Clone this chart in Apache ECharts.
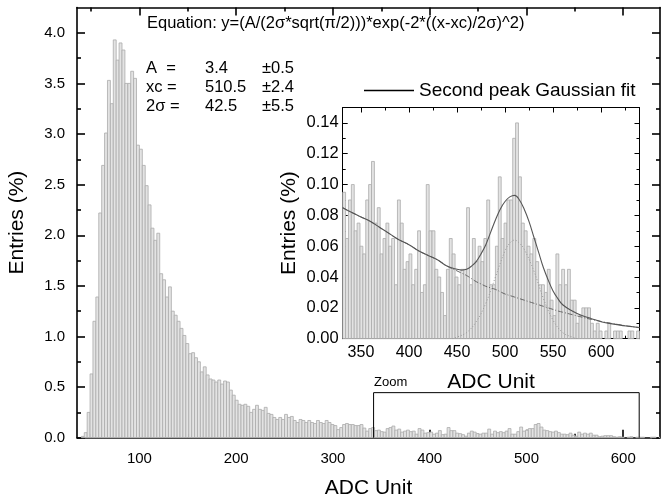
<!DOCTYPE html>
<html><head><meta charset="utf-8">
<script src="https://cdn.jsdelivr.net/npm/echarts@6/dist/echarts.min.js"></script>
<style>html,body{margin:0;padding:0;background:#fff}#c{width:662px;height:501px}</style>
</head><body><div id="c"></div>
<script>
// ---- histogram: bins of 3 ADC units starting at 40, values in % ----
const binStart = 40;
const binWidth = 3;
const entriesLow = [
  0.013, 0.05, 0.25, 0.63, 1.15, 1.39, 2.22, 2.69, 3.01, 3.53,
  3.30, 3.93, 3.73, 3.90, 3.83, 3.50, 3.50, 3.62, 3.55, 2.89,
  2.85, 2.69, 2.49, 2.30, 2.07, 1.95, 2.02, 1.62, 1.56, 1.39,
  1.49, 1.25, 1.21, 1.15, 1.08, 1.01, 0.93, 0.83, 0.84, 0.79,
  0.75, 0.65, 0.70, 0.62, 0.58, 0.57, 0.55, 0.57, 0.53, 0.56,
  0.55, 0.47, 0.42, 0.37, 0.33, 0.32, 0.33, 0.31, 0.25, 0.28,
  0.32, 0.28, 0.27, 0.30, 0.24, 0.23, 0.20, 0.18, 0.20, 0.18,
  0.23, 0.20, 0.21, 0.17, 0.15, 0.18, 0.17, 0.15, 0.17, 0.15,
  0.14, 0.17, 0.15, 0.14, 0.17, 0.15, 0.13, 0.12, 0.08, 0.10,
  0.13, 0.14, 0.13, 0.13, 0.12, 0.12, 0.13
];
const entriesHigh = [
  0.095, 0.065, 0.090, 0.100, 0.070, 0.075, 0.060, 0.055, 0.090, 0.100,
  0.115, 0.075, 0.085, 0.055, 0.065, 0.075, 0.060, 0.065, 0.035, 0.090,
  0.075, 0.045, 0.050, 0.055, 0.035, 0.045, 0.070, 0.030, 0.035, 0.100,
  0.070, 0.070, 0.045, 0.040, 0.030, 0.015, 0.045, 0.065, 0.055, 0.040,
  0.035, 0.045, 0.045, 0.085, 0.035, 0.065, 0.050, 0.060, 0.050, 0.065,
  0.090, 0.035, 0.035, 0.060, 0.105, 0.065, 0.075, 0.090, 0.090, 0.130,
  0.140, 0.105, 0.075, 0.070, 0.060, 0.055, 0.065, 0.050, 0.035, 0.035,
  0.030, 0.045, 0.025, 0.015, 0.055, 0.035, 0.045, 0.035, 0.045, 0.025,
  0.025, 0.010, 0.015, 0.020, 0.020, 0.020, 0.010, 0.005, 0.010, 0.005,
  0.000, 0.005, 0.010, 0.000, 0.005, 0.005, 0.005, 0.000, 0.000, 0.005,
  0.005, 0.000, 0.005
];
const entries = entriesLow.concat(entriesHigh);

// ---- fit curves ----
const fitX =       [331, 340, 350, 360, 370, 380, 390, 400, 410, 420, 430, 440, 450, 455, 460, 465, 470, 475, 480, 485, 490, 495, 500, 505, 510, 515, 520, 525, 530, 535, 540, 545, 550, 555, 560, 570, 580, 590, 600, 610, 620, 630, 640];
const fitTotal =   [0.085,0.082,0.079,0.076,0.072,0.068,0.064,0.061,0.057,0.054,0.051,0.047,0.045,0.0445,0.045,0.047,0.050,0.055,0.061,0.069,0.077,0.084,0.089,0.092,0.093,0.090,0.084,0.076,0.066,0.056,0.046,0.038,0.031,0.026,0.022,0.018,0.015,0.013,0.011,0.0098,0.0088,0.0080,0.0072];
const fitBackground = [0.085,0.082,0.079,0.076,0.072,0.068,0.064,0.061,0.057,0.054,0.051,0.047,0.044,0.0425,0.041,0.039,0.037,0.0355,0.034,0.033,0.032,0.0305,0.029,0.028,0.027,0.026,0.025,0.024,0.023,0.022,0.021,0.020,0.019,0.018,0.0172,0.0156,0.014,0.0125,0.0112,0.0100,0.0090,0.0080,0.0072];
const gaussX = [445, 450, 460, 470, 480, 490, 500, 505, 510, 515, 520, 530, 540, 550, 560, 570, 575];
const gaussY = [0.000, 0.001, 0.004, 0.011, 0.023, 0.040, 0.057, 0.062, 0.064, 0.062, 0.058, 0.044, 0.026, 0.012, 0.004, 0.001, 0.000];

// ---- zoom box (data coords) ----
const zoomBoxX = [342, 616.5];
const zoomBoxTop = 0.445;

// ---- ticks ----
const mainXTicks = [100, 200, 300, 400, 500, 600];
const mainXMinor = [50, 150, 250, 350, 450, 550];
const mainYTicks = [0, 0.5, 1.0, 1.5, 2.0, 2.5, 3.0, 3.5, 4.0];
const mainYMinor = [0.25, 0.75, 1.25, 1.75, 2.25, 2.75, 3.25, 3.75];
const insetXTicks = [350, 400, 450, 500, 550, 600];
const insetXMinor = [375, 425, 475, 525, 575, 625];
const insetYTicks = [0, 0.02, 0.04, 0.06, 0.08, 0.10, 0.12, 0.14];
const insetYMinor = [0.01, 0.03, 0.05, 0.07, 0.09, 0.11, 0.13];

const FONT = '"Liberation Sans", Arial, sans-serif';

function axesSet(dim, grid, min, max, major, minor, o) {
  const ls = {color: '#000', width: o.lw};
  const base = {type: 'value', gridIndex: grid, min: min, max: max, splitLine: {show: false}, silent: true};
  const p1 = dim === 'x' ? 'bottom' : 'left';
  const p2 = dim === 'x' ? 'top' : 'right';
  return [
    Object.assign({}, base, {
      position: p1,
      axisLine: {show: true, onZero: false, lineStyle: ls},
      axisTick: {show: true, inside: true, length: o.ml, customValues: major, lineStyle: ls},
      axisLabel: {show: true, customValues: major, fontSize: o.fs, fontFamily: FONT, color: '#000', margin: o.margin, formatter: o.fmt},
      name: o.name, nameLocation: 'middle', nameGap: o.nameGap,
      nameTextStyle: {fontSize: o.nfs, fontFamily: FONT, color: '#000'}
    }),
    Object.assign({}, base, {
      position: p1, axisLine: {show: false, onZero: false},
      axisTick: {show: true, inside: true, length: o.nl, customValues: minor, lineStyle: ls},
      axisLabel: {show: false}
    }),
    Object.assign({}, base, {
      position: p2, axisLine: {show: true, onZero: false, lineStyle: ls},
      axisTick: {show: true, inside: true, length: o.ml, customValues: major, lineStyle: ls},
      axisLabel: {show: false}
    }),
    Object.assign({}, base, {
      position: p2, axisLine: {show: false, onZero: false},
      axisTick: {show: true, inside: true, length: o.nl, customValues: minor, lineStyle: ls},
      axisLabel: {show: false}
    })
  ];
}

const xAxes = axesSet('x', 0, 35.5, 638, mainXTicks, mainXMinor,
  {lw: 1.6, ml: 8, nl: 4, fs: 15, margin: 14, fmt: v => String(v), name: 'ADC Unit', nameGap: 40, nfs: 21})
  .concat(axesSet('x', 1, 331, 640, insetXTicks, insetXMinor,
  {lw: 1, ml: 5, nl: 3, fs: 16, margin: 6, fmt: v => String(v), name: 'ADC Unit', nameGap: 33, nfs: 21}));
const yAxes = axesSet('y', 0, 0, 4.25, mainYTicks, mainYMinor,
  {lw: 1.6, ml: 8, nl: 4, fs: 15, margin: 12, fmt: v => v.toFixed(1), name: 'Entries (%)', nameGap: 49, nfs: 21})
  .concat(axesSet('y', 1, 0, 0.15, insetYTicks, insetYMinor,
  {lw: 1, ml: 5, nl: 3, fs: 16.5, margin: 4, fmt: v => v.toFixed(2), name: 'Entries (%)', nameGap: 43, nfs: 21}));

function histData(lo, hi) {
  const out = [];
  entries.forEach((v, i) => {
    const a = binStart + i * binWidth, b = a + binWidth;
    if (b > lo && a < hi) out.push([a, b, v]);
  });
  return out;
}

function barRender(params, api) {
  const v = api.value(2);
  if (!(v > 0)) return null;
  const a = api.coord([api.value(0), v]);
  const b = api.coord([api.value(1), 0]);
  const cs = params.coordSys;
  const shape = echarts.graphic.clipRectByRect(
    {x: a[0], y: a[1], width: b[0] - a[0], height: b[1] - a[1]},
    {x: cs.x, y: cs.y, width: cs.width, height: cs.height});
  if (!shape || shape.width <= 0 || shape.height <= 0) return null;
  return {type: 'rect', shape: shape, style: {fill: '#e3e3e3', stroke: '#ababab', lineWidth: 0.8}};
}

const chart = echarts.init(document.getElementById('c'), null, {renderer: 'canvas'});
chart.setOption({
  animation: false,
  backgroundColor: '#fff',
  grid: [
    {left: 77, right: 2, top: 7.5, bottom: 63.3, containLabel: false, outerBoundsMode: 'none'},
    {left: 342.7, right: 22.5, top: 107.5, bottom: 162.3, containLabel: false, outerBoundsMode: 'none',
     show: true, backgroundColor: '#fff', borderWidth: 0}
  ],
  legend: {
    data: [{name: 'Second peak Gaussian fit', icon: 'rect', itemStyle: {color: '#000'}}],
    left: 364, top: 81, padding: 0,
    itemWidth: 50, itemHeight: 1.3, itemGap: 0,
    textStyle: {fontSize: 19, fontFamily: FONT, color: '#000'}
  },
  xAxis: xAxes,
  yAxis: yAxes,
  series: [
    {type: 'custom', name: 'hist', xAxisIndex: 0, yAxisIndex: 0, renderItem: barRender,
     encode: {x: [0, 1], y: 2}, data: histData(35.5, 638), silent: true},
    {type: 'line', name: 'zoom', xAxisIndex: 0, yAxisIndex: 0, symbol: 'none', silent: true,
     lineStyle: {color: '#000', width: 1}, z: 5,
     data: [[zoomBoxX[0], 0], [zoomBoxX[0], zoomBoxTop], [zoomBoxX[1], zoomBoxTop], [zoomBoxX[1], 0]]},
    {type: 'custom', name: 'insetHist', xAxisIndex: 4, yAxisIndex: 4, renderItem: barRender,
     encode: {x: [0, 1], y: 2}, data: histData(331, 640), silent: true},
    {type: 'line', name: 'gauss', xAxisIndex: 4, yAxisIndex: 4, symbol: 'none', smooth: 0.4, silent: true,
     lineStyle: {color: '#999', width: 1, type: [1, 2]}, data: gaussX.map((x, i) => [x, gaussY[i]])},
    {type: 'line', name: 'background', xAxisIndex: 4, yAxisIndex: 4, symbol: 'none', smooth: 0.4, silent: true,
     lineStyle: {color: '#666', width: 1, type: [5, 2, 1, 2]}, data: fitX.map((x, i) => [x, fitBackground[i]])},
    {type: 'line', name: 'Second peak Gaussian fit', xAxisIndex: 4, yAxisIndex: 4, symbol: 'none', smooth: 0.4, silent: true,
     itemStyle: {color: '#222'},
     lineStyle: {color: '#555', width: 1.1}, data: fitX.map((x, i) => [x, fitTotal[i]])}
  ],
  graphic: [
    {type: 'text', left: 147, top: 15, style: {text: 'Equation: y=(A/(2σ*sqrt(π/2)))*exp(-2*((x-xc)/2σ)^2)', font: '16.5px ' + FONT, fill: '#000'}},
    {type: 'text', left: 146, top: 60, style: {text: 'A  =', font: '16.5px ' + FONT, fill: '#000'}},
    {type: 'text', left: 146, top: 79, style: {text: 'xc =', font: '16.5px ' + FONT, fill: '#000'}},
    {type: 'text', left: 146, top: 98, style: {text: '2σ =', font: '16.5px ' + FONT, fill: '#000'}},
    {type: 'text', left: 205, top: 60, style: {text: '3.4', font: '16.5px ' + FONT, fill: '#000'}},
    {type: 'text', left: 205, top: 79, style: {text: '510.5', font: '16.5px ' + FONT, fill: '#000'}},
    {type: 'text', left: 205, top: 98, style: {text: '42.5', font: '16.5px ' + FONT, fill: '#000'}},
    {type: 'text', left: 262, top: 60, style: {text: '±0.5', font: '16.5px ' + FONT, fill: '#000'}},
    {type: 'text', left: 262, top: 79, style: {text: '±2.4', font: '16.5px ' + FONT, fill: '#000'}},
    {type: 'text', left: 262, top: 98, style: {text: '±5.5', font: '16.5px ' + FONT, fill: '#000'}},
    {type: 'text', left: 374, top: 376, style: {text: 'Zoom', font: '13px ' + FONT, fill: '#000'}}
  ]
});
</script></body></html>
